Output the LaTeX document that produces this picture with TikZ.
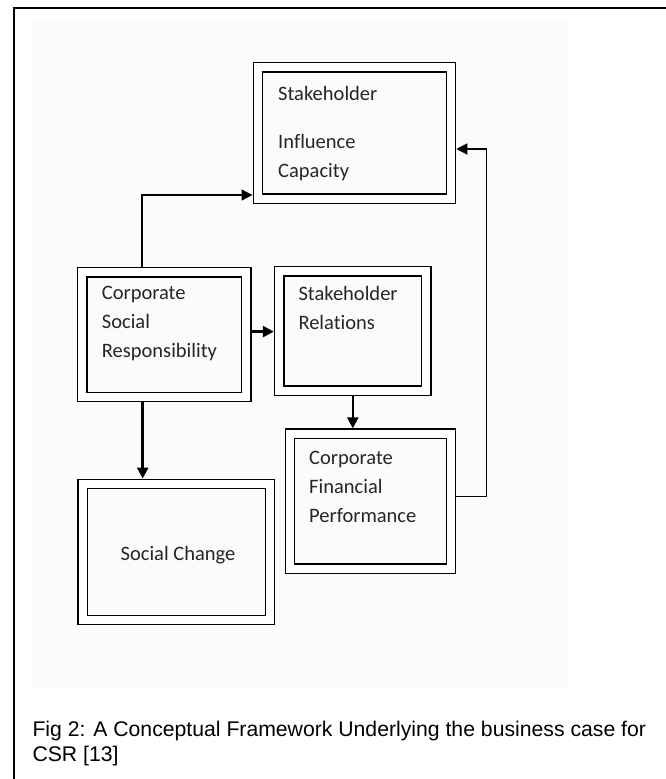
\documentclass[tikz,border=0pt]{standalone}
\usepackage{fontspec}
\setmainfont{Carlito}[Ligatures={NoCommon,NoRare,NoContextual}]
\newfontfamily\capfont{Liberation Sans}
\usetikzlibrary{arrows.meta}

\begin{document}
\begin{tikzpicture}[x=1pt,y=-1pt]

	\tikzstyle{framebox} = [draw,double,line width=1.4pt,double distance=8pt,outer sep=5.4pt,inner sep=0pt]
	\tikzstyle{boxtext} = [anchor=base west,align=left,inner sep=0pt,text=black!85,font=\fontsize{20.5}{29}\selectfont]
	\tikzstyle{link} = [line width=1.3pt,-{Triangle[length=11pt,width=11pt]}]
	\tikzstyle{thicklink} = [line width=2.6pt,-{Triangle[length=11pt,width=11pt]}]

	\useasboundingbox (0,0) rectangle (666,779);

	% page frame and faint panel
	\fill[black!1.5] (32,18) rectangle (568,687);
	\draw[line width=2pt] (14,779) -- (14,7.7) -- (666,7.7);

	% boxes
	\node[framebox,minimum width=193pt,minimum height=131.3pt] (si) at (354.4,133) {};
	\node[framebox,minimum width=163.7pt,minimum height=124.8pt] (csr) at (164.3,334.6) {};
	\node[framebox,minimum width=147.2pt,minimum height=119.7pt] (sr) at (352.8,331) {};
	\node[framebox,minimum width=161pt,minimum height=135pt] (cfp) at (370.4,501.2) {};
	\node[framebox,minimum width=187.5pt,minimum height=136.1pt] (sc) at (176.3,552) {};

	% texts (base = last line)
	\node[boxtext] (sitext) at (278,177) {Stakeholder\\[19pt]Influence\\Capacity};
	\node[boxtext] (csrtext) at (101.7,357) {Corporate\\Social\\Responsibility};
	\node[boxtext] (srtext) at (298.3,329) {Stakeholder\\Relations};
	\node[boxtext] (cfptext) at (309,522.7) {Corporate\\Financial\\Performance};
	\node[boxtext,anchor=base] (sctext) at (178,560) {Social Change};

	% connectors
	\draw[link] ([xshift=-22.3pt]csr.north) |- ([yshift=-62pt]si.west);
	\draw[link] ([yshift=5pt]cfp.east) -- ++(30,0) |- ([yshift=-16pt]si.east);
	\draw[thicklink] ([yshift=3pt]csr.east) -- ([yshift=3pt]csr.east -| sr.west);
	\draw[thicklink] (sr.south) -- (sr.south |- cfp.north);
	\draw[thicklink] ([xshift=-21.6pt]csr.south) -- ([xshift=-21.6pt]csr.south |- sc.north);

	% caption
	\node[anchor=base west,align=left,inner sep=0pt,font=\capfont\fontsize{21.2}{24.5}\selectfont] (caption) at (32.3,761) {Fig 2: A Conceptual Framework Underlying the business case for\\CSR [13]};

\end{tikzpicture}
\end{document}
